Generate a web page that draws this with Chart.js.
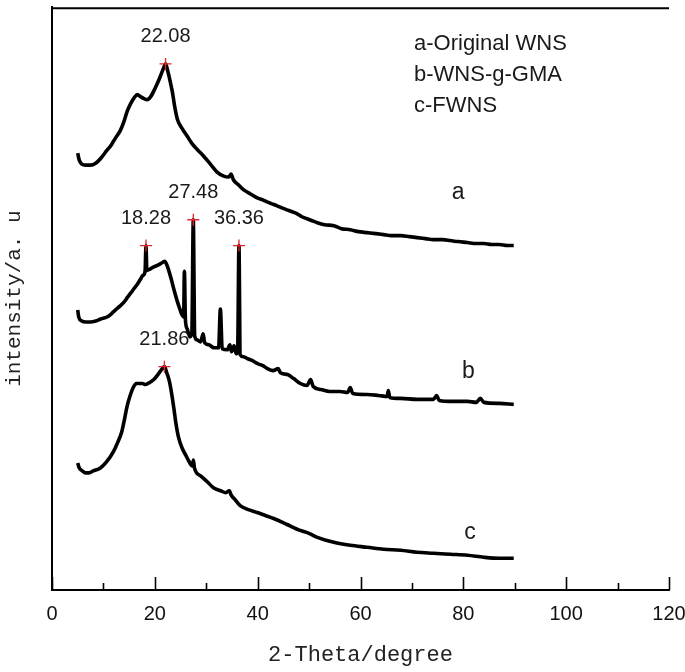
<!DOCTYPE html>
<html>
<head>
<meta charset="utf-8">
<script src="https://cdn.jsdelivr.net/npm/chart.js@4/dist/chart.umd.min.js"></script>
<style>
  html, body { margin: 0; padding: 0; background: #fff; }
  #wrap { width: 685px; height: 672px; }
</style>
</head>
<body>
<div id="wrap"><canvas id="c" width="685" height="672"></canvas></div>
<script>
// ---- data (2-theta in degrees, relative intensity in arbitrary units, curves stacked) ----
const xA = [5.0,5.3,5.8,6.5,7.5,8.5,9.5,10.7,11.5,12.3,13.3,14.0,14.6,15.3,16.0,16.6,17.2,17.9,18.5,19.2,20.1,20.8,21.4,21.8,22.08,22.5,23.0,23.4,23.9,24.4,25.3,26.3,27.2,28.2,29.5,30.8,32.1,33.4,34.4,34.8,35.3,36.3,37.3,38.6,39.9,41.0,41.8,42.8,43.8,44.7,45.7,46.7,47.7,48.6,49.6,50.6,51.6,53.0,54.8,56.3,58.0,59.6,61.3,63.0,64.5,66.0,67.8,69.5,71.0,72.6,74.2,76.0,77.5,79.0,80.8,82.5,84.0,85.5,87.0,88.5,89.8];
const yA = [440,433,429,428,428,430,435,443,448,455,463,472,482,490,496,499,497,495,494,497,506,514,522,527,530,523,512,502,486,474,465,457,450,444,437,429,421,417,416,419,413,408,403,399,395,393,391,389,387,385,383,381,379,376,374,372,370,368,367,364,363,361,360,359,358,357,357,356,355,354,353,353,352,351,350,349,349,348,348,347,347];

const xB = [5.0,5.2,5.8,6.6,7.5,8.5,9.5,10.7,11.5,12.3,13.2,14.0,14.7,15.3,16.0,16.6,17.2,17.7,18.1,18.28,18.45,19.0,19.6,20.5,21.2,21.9,22.3,22.7,23.2,23.7,24.3,24.8,25.3,25.6,25.75,25.95,26.3,26.8,27.2,27.48,27.75,28.2,28.9,29.4,29.7,30.5,31.5,32.4,32.75,33.1,34.1,34.6,34.9,35.4,35.8,36.1,36.36,36.6,37.2,38.0,39.0,40.0,41.0,41.9,43.0,44.0,44.4,45.8,47.0,48.3,49.6,50.3,50.8,52.3,54.0,56.0,57.5,58.0,58.5,61.3,63.5,65.2,65.4,65.7,67.8,71,74.2,74.8,75.3,78,80.8,82.5,83.3,84.0,87,89.8];
const yB = [282,275,271,270,270,271,273,275,278,282,286,290,295,299,304,308,313,317,321,347,322,323,325,327,329,331,328,322,313,303,292,284,277,275,321,272,263,255,259,373,256,252,250,258,249,247,244,244,283,243,242,247,240,246,238,240,347,237,235,233,231,228,226,223,221,223,219,217,213,208,206,212,205,202,200,200,199,204,198,197,196,195,201,194,193,192,192,196,191,190,190,189,193,189,188,187];

const xC = [5.0,5.3,5.9,6.5,7.2,8.0,9.4,10.6,12.0,12.8,13.6,14.1,14.6,15.2,15.8,16.4,17.0,17.6,18.2,19.0,19.8,20.6,21.3,21.86,22.3,22.8,23.3,23.7,24.1,24.6,25.3,26.1,26.6,27.3,27.5,27.7,28.9,30.2,31.4,32.8,33.8,34.5,34.8,35.6,36.6,38.2,39.9,41.5,43.1,45.7,48.3,50,51.6,54.8,58,61.3,64.5,67.8,71,74.2,77.5,80.8,84,87,89.8];
const yC = [128,123,120,118,118,120,123,129,140,149,160,172,185,196,204,208,208,208,207,209,212,217,222,225,219,211,197,183,168,154,143,135,130,125,131,123,115,109,103,100,98,100,96,91,85,81,78,75,72,66,60,57,53,48,45,43,41,40,38,37,36,35,33,32,32];

// marked peaks
const peakX = [22.08, 18.28, 27.48, 36.36, 21.86];
const peakY = [530, 347, 373, 347, 225];
const peakLabels = ["22.08", "18.28", "27.48", "36.36", "21.86"];

const legendLines = ["a-Original WNS", "b-WNS-g-GMA", "c-FWNS"];
const curveNames = ["a", "b", "c"];
const xTicks = [0, 20, 40, 60, 80, 100, 120];
const xMinorTicks = [10, 30, 50, 70, 90, 110];

const toPts = (xs, ys) => xs.map((x, i) => ({ x: x, y: ys[i] }));

const decor = {
  id: 'decor',
  afterDraw(chart) {
    const ctx = chart.ctx;
    const a = chart.chartArea;
    const xs = chart.scales.x, ys = chart.scales.y;
    ctx.save();
    ctx.strokeStyle = '#000';
    ctx.lineWidth = 2;
    // top frame line
    ctx.beginPath();
    ctx.moveTo(a.left, a.top + 1);
    ctx.lineTo(a.right, a.top + 1);
    ctx.stroke();
    // inward ticks
    ctx.lineWidth = 1.6;
    xTicks.forEach(v => {
      const p = Math.round(xs.getPixelForValue(v)) + 0.5;
      ctx.beginPath(); ctx.moveTo(p, a.bottom); ctx.lineTo(p, a.bottom - 13); ctx.stroke();
    });
    xMinorTicks.forEach(v => {
      const p = Math.round(xs.getPixelForValue(v)) + 0.5;
      ctx.beginPath(); ctx.moveTo(p, a.bottom); ctx.lineTo(p, a.bottom - 7); ctx.stroke();
    });
    // peak labels
    ctx.fillStyle = '#1a1a1a';
    ctx.font = '20px "Liberation Sans", Arial, sans-serif';
    ctx.textAlign = 'center';
    ctx.textBaseline = 'middle';
    peakLabels.forEach((t, i) => {
      const px = xs.getPixelForValue(peakX[i]);
      const py = ys.getPixelForValue(peakY[i]);
      ctx.fillText(t, px, py - 27);
    });
    // legend text
    ctx.font = '22px "Liberation Sans", Arial, sans-serif';
    ctx.textAlign = 'left';
    legendLines.forEach((t, i) => {
      ctx.fillText(t, 414, 44 + i * 31);
    });
    // curve letters near the tail of each curve
    ctx.textAlign = 'center';
    ctx.font = '23px "Liberation Sans", Arial, sans-serif';
    const curveEnds = [[xA, yA], [xB, yB], [xC, yC]];
    const letterX = [79, 81, 81.3];
    const letterOff = [53, 33, 26];
    curveNames.forEach((n, i) => {
      const px = xs.getPixelForValue(letterX[i]);
      const [cx, cy] = curveEnds[i];
      const py = ys.getPixelForValue(cy[cy.length - 1]);
      ctx.fillText(n, px, py - letterOff[i]);
    });
    ctx.restore();
  }
};

const lineStyle = { showLine: true, borderColor: '#000', borderWidth: 3.6, pointRadius: 0, cubicInterpolationMode: 'monotone', borderJoinStyle: 'round', order: 2 };

new Chart(document.getElementById('c'), {
  type: 'scatter',
  data: {
    datasets: [
      Object.assign({ data: toPts(xA, yA) }, lineStyle),
      Object.assign({ data: toPts(xB, yB) }, lineStyle),
      Object.assign({ data: toPts(xC, yC) }, lineStyle),
      { data: toPts(peakX, peakY), showLine: false, pointStyle: 'cross', pointRadius: 6, borderColor: '#e0262b', borderWidth: 1.3, backgroundColor: '#e0262b', order: 1 }
    ]
  },
  options: {
    responsive: false,
    animation: false,
    devicePixelRatio: 1,
    layout: { padding: { top: 3, right: 16, bottom: 0, left: 0 } },
    plugins: { legend: { display: false }, tooltip: { enabled: false } },
    scales: {
      x: {
        type: 'linear', min: 0, max: 120,
        grid: { display: false, drawTicks: false },
        border: { display: true, color: '#000', width: 2 },
        ticks: { stepSize: 20, padding: 12, color: '#111', font: { family: '"Liberation Sans", Arial, sans-serif', size: 20 } },
        title: { display: true, text: '2-Theta/degree', color: '#222', padding: { top: 0, bottom: 4 }, font: { family: '"Liberation Mono", monospace', size: 22 } },
        afterFit: s => { s.height = 82; s.paddingRight = 0; s.paddingLeft = 0; }
      },
      y: {
        type: 'linear', min: 0, max: 587,
        grid: { display: false, drawTicks: false },
        border: { display: true, color: '#000', width: 2 },
        ticks: { display: false },
        title: { display: true, text: 'intensity/a. u', color: '#222', padding: { top: 2, bottom: 0 }, font: { family: '"Liberation Mono", monospace', size: 21 } },
        afterFit: s => { s.width = 52; s.paddingTop = 0; s.paddingBottom = 0; }
      }
    }
  },
  plugins: [decor]
});
</script>
</body>
</html>
